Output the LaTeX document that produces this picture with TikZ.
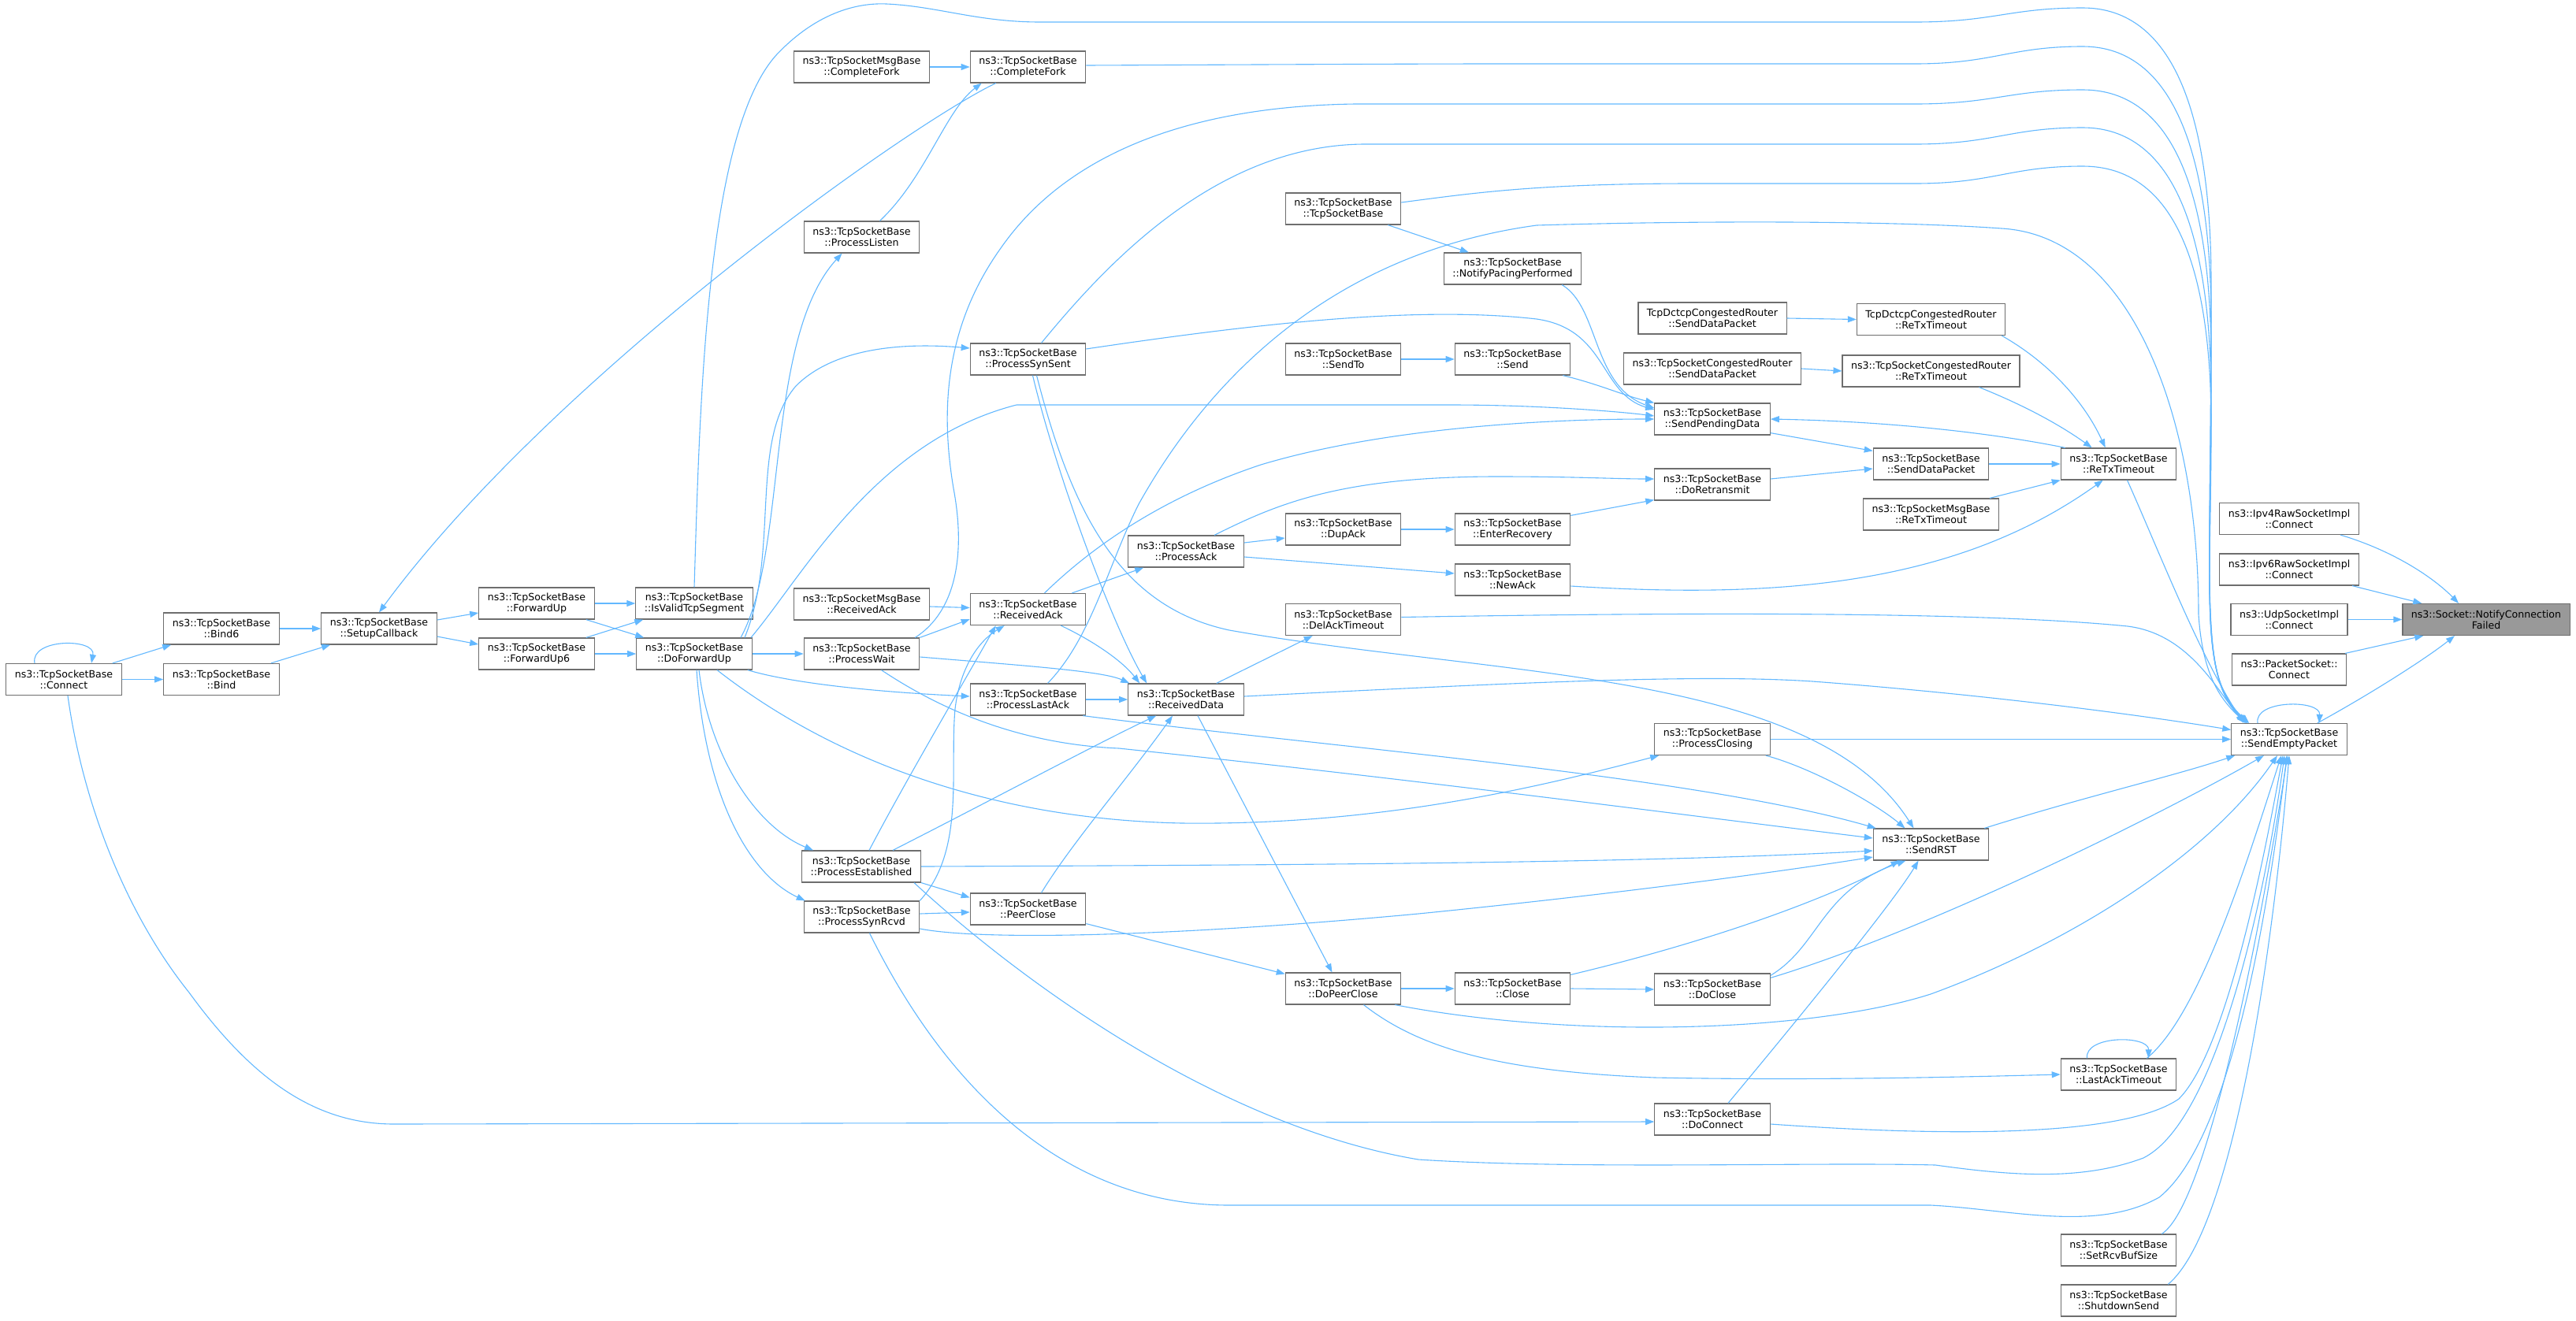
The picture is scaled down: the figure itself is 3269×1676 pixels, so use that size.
\documentclass[tikz,border=0pt]{standalone}
\usepackage{fontspec}
\setmainfont{DejaVu Sans}
\usetikzlibrary{arrows.meta}
\definecolor{edgeblue}{HTML}{63B8FF}
\definecolor{boxgray}{HTML}{6E6E6E}
\definecolor{rootgray}{HTML}{999999}
\newcommand{\callfont}{\fontsize{12.6pt}{14pt}\selectfont}
\tikzset{
  fn/.style={draw=boxgray, line width=1.2pt, fill=white, align=center,
    inner xsep=11pt, inner ysep=0pt, minimum height=40pt, font=\callfont},
  rootfn/.style={fn, fill=rootgray},
  call/.style={draw=edgeblue, line width=1.1pt, -{Triangle[length=11pt,width=8pt]}}
}
\begin{document}
\begin{tikzpicture}[x=1pt,y=-1pt]
    \useasboundingbox (0,0) rectangle (3269,1676);

    % TcpSocketBase members
    \foreach \nm/\px/\py/\lbl in {
      conn/81/862.5/Connect, bindsix/281/798/Bind6, bind/281/862.5/Bind,
      setup/481/798/SetupCallback, fwup/681/766/ForwardUp, fwupsix/681/830/ForwardUp6,
      valid/881/766/IsValidTcpSegment, dofwd/881/830/DoForwardUp,
      cfork/1304.5/85/CompleteFork, plisten/1093.5/301/ProcessListen,
      psynsent/1304.5/456/ProcessSynSent, rack/1304.5/773.5/ReceivedAck,
      pwait/1093.5/830/ProcessWait, plastack/1304.5/888/ProcessLastAck,
      pestab/1093/1100/ProcessEstablished, psynrcvd/1093.5/1164/ProcessSynRcvd,
      peerclose/1304.5/1154/PeerClose, pack/1505/700/ProcessAck, rdata/1505/888/ReceivedData,
      tcpbase/1704.5/265/TcpSocketBase, sendto/1704.5/456/SendTo, dupack/1704.5/672/DupAck,
      delack/1704.5/786.5/DelAckTimeout, dopeer/1704.5/1255/DoPeerClose,
      pacing/1919.5/341/NotifyPacingPerformed, send/1919.5/456/Send,
      enterrec/1919.5/672/EnterRecovery, newack/1919.5/736/NewAck, close/1919.5/1255/Close,
      spend/2173/532/SendPendingData, doretx/2173/615/DoRetransmit,
      pclosing/2173/938.5/ProcessClosing, doclose/2173/1256/DoClose, doconn/2173/1421/DoConnect,
      sdata/2450.5/589/SendDataPacket, sendrst/2450.5/1072/SendRST,
      retx/2688.5/589/ReTxTimeout, lastack/2688.5/1364/LastAckTimeout,
      rcvbuf/2688.5/1587/SetRcvBufSize, shutdown/2688.5/1651/ShutdownSend,
      sempty/2905/938.5/SendEmptyPacket}
      \node[fn] (\nm) at (\px,\py) {ns3::TcpSocketBase\\::\lbl};

    % other classes
    \node[fn] (cforkmsg) at (1093.5,85) {ns3::TcpSocketMsgBase\\::CompleteFork};
    \node[fn] (rackmsg) at (1093.5,767) {ns3::TcpSocketMsgBase\\::ReceivedAck};
    \node[fn] (dctcpsend) at (2173,404) {TcpDctcpCongestedRouter\\::SendDataPacket};
    \node[fn] (congsend) at (2173,468) {ns3::TcpSocketCongestedRouter\\::SendDataPacket};
    \node[fn] (dctcpretx) at (2450.5,405.5) {TcpDctcpCongestedRouter\\::ReTxTimeout};
    \node[fn] (congretx) at (2450.5,471) {ns3::TcpSocketCongestedRouter\\::ReTxTimeout};
    \node[fn] (msgretx) at (2450.5,653) {ns3::TcpSocketMsgBase\\::ReTxTimeout};
    \node[fn] (ipvfour) at (2905,658.5) {ns3::Ipv4RawSocketImpl\\::Connect};
    \node[fn] (ipvsix) at (2905,723) {ns3::Ipv6RawSocketImpl\\::Connect};
    \node[fn] (udp) at (2905,786.5) {ns3::UdpSocketImpl\\::Connect};
    \node[fn] (packet) at (2905,850) {ns3::PacketSocket::\\Connect};
    \node[rootfn] (notify) at (3155,786.5) {ns3::Socket::NotifyConnection\\Failed};

    % straight calls
    \foreach \a/\b in {conn/bind, bindsix/setup, fwup/valid, fwupsix/dofwd, dofwd/pwait,
      cforkmsg/cfork, plastack/rdata, dopeer/close, close/doclose, dupack/enterrec,
      sendto/send, dctcpsend/dctcpretx, congsend/congretx, sdata/retx, pclosing/sempty, udp/notify}
      \draw[call] (\a.east) -- (\b.west);

    % left part
    \draw[call] ([xshift=-37pt]conn.north) .. controls (38,810) and (122,810) .. ([xshift=35pt]conn.north);
    \draw[call] ([xshift=-12pt]conn.north east) -- ([xshift=10pt]bindsix.south west);
    \draw[call] ([xshift=-11pt]bind.north east) -- ([xshift=12pt]setup.south west);
    \draw[call] ([yshift=11pt]setup.east) -- ([yshift=-12pt]fwup.west);
    \draw[call] ([yshift=-10pt]setup.east) -- ([yshift=12pt]fwupsix.west);
    \draw[call] ([xshift=-11pt]fwup.south east) -- ([xshift=10pt]dofwd.north west);
    \draw[call] ([xshift=-11pt]fwupsix.north east) -- ([xshift=10pt]valid.south west);
    \draw[call] ([xshift=33pt]cfork.south west) .. controls (1150,160) and (700,480) .. (setup.north);
    \draw[call] ([xshift=23pt]plisten.north) .. controls (1175,225) and (1200,140) .. ([xshift=15pt]cfork.south west);
    \draw[call] ([xshift=5pt]conn.south) .. controls (105,1020) and (160,1160) .. (240,1260)
      .. controls (320,1370) and (400,1427) .. (500,1427) -- ([yshift=-3pt]doconn.west);

    % out of DoForwardUp
    \draw[call] ([xshift=59pt]dofwd.north) .. controls (1000,700) and (970,430) .. ([xshift=-25pt]plisten.south);
    \draw[call] ([xshift=64pt]dofwd.north) .. controls (990,700) and (950,560) .. (1010,490)
      .. controls (1060,440) and (1150,435) .. ([yshift=14pt]psynsent.west);
    \draw[call] ([xshift=72pt]dofwd.north) .. controls (1020,730) and (1110,560) .. (1290,514)
      -- (1840,514) .. controls (1950,514) and (2050,522) .. ([yshift=4pt]spend.west);
    \draw[call] ([xshift=-6pt]dofwd.south east) .. controls (1000,866) and (1100,878) .. ([yshift=4pt]plastack.west);
    \draw[call] ([xshift=29pt]dofwd.south) .. controls (1050,960) and (1250,1040) .. (1500,1045)
      .. controls (1750,1048) and (1950,1000) .. ([xshift=6pt]pclosing.south west);
    \draw[call] ([xshift=6pt]dofwd.south) .. controls (900,960) and (960,1050) .. ([xshift=15pt]pestab.north west);
    \draw[call] ([xshift=3pt]dofwd.south) .. controls (895,1010) and (950,1110) .. ([xshift=2pt]psynrcvd.north west);

    % long calls over the top
    \draw[call] (valid.north) .. controls (888,520) and (895,170) .. (985,70)
      .. controls (1030,22) and (1080,3) .. (1125,5) .. controls (1190,8) and (1240,28) .. (1320,28)
      -- (2430,28) .. controls (2530,28) and (2550,10) .. (2643,10)
      .. controls (2760,10) and (2806,150) .. (2806,360) .. controls (2806,760) and (2790,860) .. ([xshift=20pt]sempty.north west);
    \draw[call] ([yshift=2pt]cfork.east) .. controls (1600,82) and (1800,81) .. (1900,81) -- (2430,81)
      .. controls (2530,81) and (2550,59) .. (2643,59)
      .. controls (2760,59) and (2806,200) .. (2806,410) .. controls (2806,760) and (2790,860) .. ([xshift=20pt]sempty.north west);
    \draw[call] ([xshift=-6pt]pwait.north east) .. controls (1215,775) and (1225,700) .. (1210,620)
      .. controls (1195,530) and (1195,420) .. (1270,315) .. controls (1350,200) and (1500,135) .. (1720,132)
      -- (2430,132) .. controls (2530,132) and (2550,114) .. (2643,114)
      .. controls (2760,114) and (2806,250) .. (2806,460) .. controls (2806,760) and (2790,860) .. ([xshift=21pt]sempty.north west);
    \draw[call] ([xshift=17pt]psynsent.north) .. controls (1400,340) and (1540,185) .. (1730,183)
      -- (2430,183) .. controls (2530,183) and (2550,162) .. (2643,162)
      .. controls (2760,162) and (2806,300) .. (2806,510) .. controls (2806,760) and (2790,860) .. ([xshift=22pt]sempty.north west);
    \draw[call] ([yshift=8pt]tcpbase.east) .. controls (1870,245) and (1950,233) .. (2150,233)
      -- (2430,233) .. controls (2530,233) and (2550,211) .. (2643,211)
      .. controls (2760,211) and (2806,340) .. (2806,540) .. controls (2806,760) and (2790,860) .. ([xshift=23pt]sempty.north west);
    \draw[call] ([xshift=25pt]plastack.north) .. controls (1385,810) and (1405,720) .. (1445,640)
      .. controls (1540,470) and (1700,320) .. (1950,286) .. controls (2150,280) and (2400,280) .. (2540,290)
      .. controls (2710,300) and (2790,540) .. (2790,780) .. controls (2795,860) and (2820,890) .. ([xshift=19pt]sempty.north west);
    \draw[call] ([xshift=-17pt]tcpbase.south east) -- ([xshift=32pt]pacing.north west);

    % middle part
    \draw[call] ([yshift=-3pt]rackmsg.east) -- ([yshift=2pt]rack.west);
    \draw[call] (pwait.north east) -- ([yshift=8pt]rack.south west);
    \draw[call] ([xshift=10pt]pestab.north) .. controls (1150,990) and (1215,880) .. ([xshift=33pt]rack.south west);
    \draw[call] (psynrcvd.north east) .. controls (1225,1080) and (1205,980) .. (1212,900)
      .. controls (1218,850) and (1240,815) .. ([xshift=44pt]rack.south west);
    \draw[call] ([xshift=-18pt]rack.north east) -- ([xshift=20pt]pack.south west);
    \draw[call] ([xshift=21pt]rack.north) .. controls (1390,690) and (1480,630) .. (1600,590)
      .. controls (1750,545) and (1950,532) .. (spend.west);
    \draw[call] ([yshift=-4pt]pwait.east) .. controls (1300,845) and (1400,852) .. ([xshift=2pt]rdata.north west);
    \draw[call] ([xshift=-32pt]rack.south east) .. controls (1390,815) and (1425,840) .. ([xshift=15pt]rdata.north west);
    \draw[call] ([xshift=6pt]psynsent.south) .. controls (1340,600) and (1410,790) .. ([xshift=24pt]rdata.north west);
    \draw[call] ([xshift=11pt]psynsent.south) .. controls (1360,650) and (1420,770) .. (1560,800)
      .. controls (1900,860) and (2300,850) .. ([xshift=-22pt]sendrst.north);
    \draw[call] ([xshift=-36pt]pestab.north east) .. controls (1250,1020) and (1400,940) .. ([xshift=36pt]rdata.south west);
    \draw[call] ([xshift=17pt]peerclose.north) .. controls (1360,1070) and (1430,990) .. ([xshift=-17pt]rdata.south);
    \draw[call] ([xshift=-35pt]rdata.north east) -- ([xshift=35pt]delack.south west);
    \draw[call] ([xshift=15pt]rdata.south) -- ([xshift=-14pt]dopeer.north);
    \draw[call] ([yshift=4pt]rdata.east) .. controls (1900,868) and (2150,855) .. (2300,865)
      .. controls (2500,880) and (2700,905) .. ([yshift=12pt]sempty.west);
    \draw[call] (pestab.south east) -- ([yshift=-6pt]peerclose.north west);
    \draw[call] ([yshift=4pt]psynrcvd.east) -- ([yshift=-4pt]peerclose.west);
    \draw[call] ([yshift=2pt]peerclose.south east) -- ([yshift=-2pt]dopeer.north west);

    % into SendRST
    \draw[call] ([xshift=25pt]pwait.south) .. controls (1200,905) and (1300,945) .. (1420,950)
      .. controls (1800,990) and (2100,1030) .. ([yshift=8pt]sendrst.west);
    \draw[call] ([xshift=-4pt]plastack.south east) .. controls (1700,950) and (2150,985) .. ([xshift=4pt]sendrst.north west);
    \draw[call] (pestab.east) .. controls (1700,1098) and (2100,1095) .. ([yshift=-8pt]sendrst.west);
    \draw[call] ([yshift=-15pt]psynrcvd.east) .. controls (1250,1195) and (1500,1188) .. (1800,1160)
      .. controls (2100,1130) and (2300,1100) .. ([yshift=-16pt]sendrst.west);
    \draw[call] ([xshift=-6pt]pclosing.south east) .. controls (2300,975) and (2380,1020) .. ([xshift=-33pt]sendrst.north);
    \draw[call] ([yshift=-3pt]close.north east) .. controls (2150,1200) and (2300,1150) .. ([xshift=-40pt]sendrst.south);
    \draw[call] ([yshift=-3pt]doclose.north east) .. controls (2310,1200) and (2310,1130) .. ([xshift=-32pt]sendrst.south);
    \draw[call] ([xshift=20pt]doconn.north) .. controls (2260,1320) and (2400,1150) .. ([xshift=-16pt]sendrst.south);

    % SendPendingData and ReTxTimeout
    \draw[call] ([yshift=13pt]psynsent.east) .. controls (1600,410) and (1800,388) .. (1950,405)
      .. controls (2040,418) and (2030,500) .. ([yshift=12pt]spend.west);
    \draw[call] ([xshift=-25pt]pacing.south east) .. controls (2030,390) and (2020,490) .. ([yshift=14pt]spend.west);
    \draw[call] ([xshift=-10pt]send.south east) .. controls (2030,488) and (2060,502) .. (spend.north west);
    \draw[call] ([xshift=6pt]retx.north west) .. controls (2530,550) and (2400,535) .. (spend.east);
    \draw[call] ([yshift=3pt]spend.south east) -- ([yshift=-4pt]sdata.north west);
    \draw[call] ([yshift=7pt]doretx.east) -- ([yshift=-6pt]sdata.west);
    \draw[call] ([yshift=-3pt]enterrec.north east) -- ([yshift=1pt]doretx.south west);
    \draw[call] ([xshift=36pt]pack.north) .. controls (1620,640) and (1700,605) .. (1900,605)
      .. controls (2000,605) and (2050,608) .. ([yshift=7pt]doretx.west);
    \draw[call] ([yshift=11pt]pack.east) -- ([yshift=-11pt]dupack.west);
    \draw[call] ([yshift=-7pt]pack.east) -- ([yshift=8pt]newack.west);
    \draw[call] ([yshift=-8pt]newack.east) .. controls (2250,760) and (2480,745) .. ([xshift=54pt]retx.south west);
    \draw[call] ([xshift=-5pt]dctcpretx.south east) .. controls (2600,460) and (2645,510) .. ([xshift=57pt]retx.north west);
    \draw[call] ([xshift=61pt]congretx.south) .. controls (2570,515) and (2615,540) .. ([xshift=40pt]retx.north west);
    \draw[call] ([xshift=-12pt]msgretx.north east) -- (retx.south west);

    % into SendEmptyPacket
    \draw[call] ([xshift=11pt]retx.south) .. controls (2740,700) and (2790,830) .. ([xshift=16pt]sempty.north west);
    \draw[call] ([yshift=3pt]delack.east) .. controls (2100,778) and (2500,775) .. (2700,795)
      .. controls (2780,805) and (2815,880) .. ([xshift=18pt]sempty.north west);
    \draw[call] ([xshift=-6pt]sendrst.north east) .. controls (2650,1010) and (2760,985) .. ([xshift=5pt]sempty.south west);
    \draw[call] ([yshift=-6pt]doclose.north east) .. controls (2450,1180) and (2750,1030) .. ([xshift=-32pt]sempty.south);
    \draw[call] ([xshift=-8pt]dopeer.south east) .. controls (2000,1320) and (2300,1310) .. (2450,1262)
      .. controls (2620,1200) and (2800,1090) .. ([xshift=-15pt]sempty.south);
    \draw[call] ([xshift=26pt]dopeer.south) .. controls (1800,1330) and (1900,1360) .. (2100,1368)
      .. controls (2300,1372) and (2500,1367) .. (lastack.west);
    \draw[call] ([xshift=-40pt]lastack.north) .. controls (2645,1314) and (2727,1314) .. ([xshift=38pt]lastack.north);
    \draw[call] ([xshift=-38pt]lastack.north east) .. controls (2790,1290) and (2850,1100) .. ([xshift=-10pt]sempty.south);
    \draw[call] ([yshift=-6pt]doconn.east) .. controls (2500,1445) and (2700,1440) .. (2765,1395)
      .. controls (2830,1330) and (2880,1050) .. ([xshift=-8pt]sempty.south);
    \draw[call] ([xshift=-9pt]pestab.south east) .. controls (1300,1250) and (1550,1430) .. (1800,1472)
      .. controls (2000,1485) and (2300,1475) .. (2456,1479) .. controls (2550,1492) and (2640,1500) .. (2720,1470)
      .. controls (2820,1420) and (2880,1100) .. ([xshift=-6pt]sempty.south);
    \draw[call] ([xshift=10pt]psynrcvd.south) .. controls (1200,1380) and (1350,1530) .. (1560,1530)
      -- (2450,1530) .. controls (2550,1535) and (2660,1565) .. (2740,1520)
      .. controls (2840,1440) and (2885,1100) .. ([xshift=-3pt]sempty.south);
    \draw[call] ([xshift=-19pt]rcvbuf.north east) .. controls (2800,1530) and (2865,1200) .. ([xshift=-2pt]sempty.south);
    \draw[call] ([xshift=-11pt]shutdown.north east) .. controls (2835,1560) and (2885,1200) .. (sempty.south);
    \draw[call] ([xshift=-40pt]sempty.north) .. controls (2860,888) and (2945,888) .. ([xshift=38pt]sempty.north);

    % into NotifyConnectionFailed
    \draw[call] ([xshift=-38pt]sempty.north east) .. controls (3010,880) and (3080,835) .. ([xshift=-40pt]notify.south);
    \draw[call] ([xshift=65pt]ipvfour.south) .. controls (3040,700) and (3090,735) .. ([xshift=-35pt]notify.north);
    \draw[call] ([xshift=80pt]ipvsix.south) -- ([xshift=25pt]notify.north west);
    \draw[call] ([xshift=-2pt]packet.north east) -- ([xshift=27pt]notify.south west);
\end{tikzpicture}
\end{document}
